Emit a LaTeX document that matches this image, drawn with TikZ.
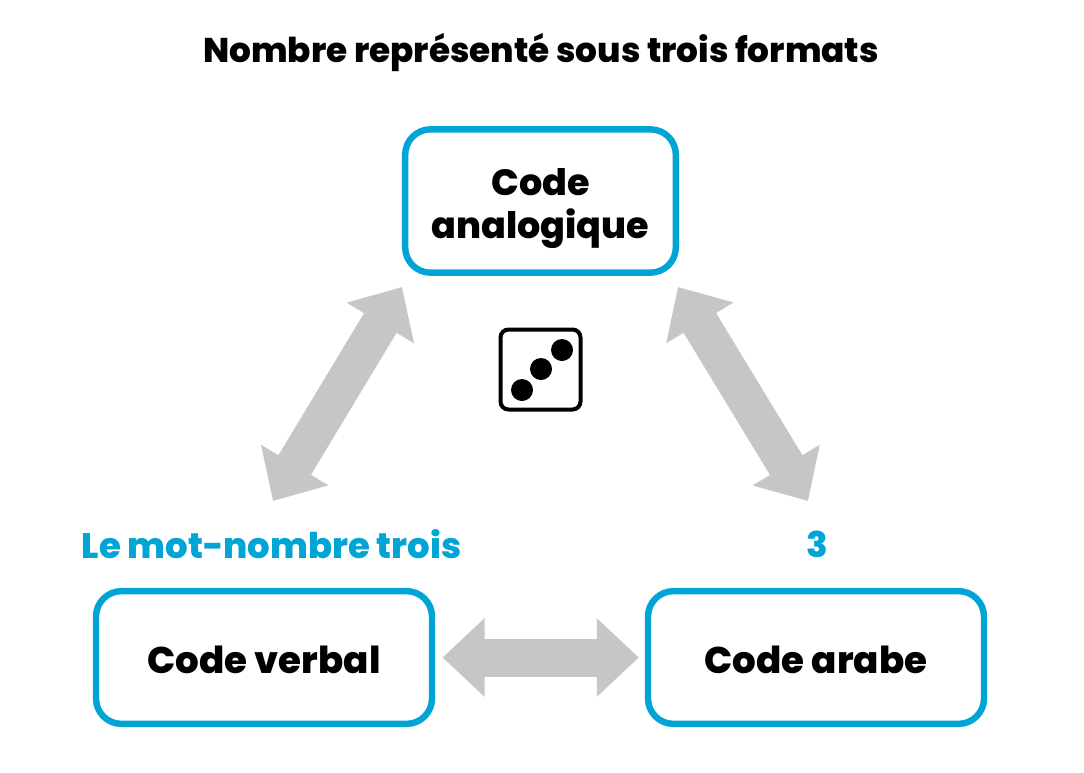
\documentclass[tikz,border=0pt]{standalone}
\usepackage{fontspec}
\usetikzlibrary{arrows.meta}
\setmainfont{Poppins ExtraBold}
\definecolor{codeblue}{HTML}{00A5D6}
\definecolor{flechegrey}{HTML}{C6C6C6}
\tikzset{
	codebox/.style={draw=codeblue,line width=4.8pt,rounded corners=19pt,align=center,font=\fontsize{27.9}{32.5}\selectfont},
	lowbox/.style={codebox,minimum width=252pt,minimum height=99.5pt,text height=24pt,text depth=0pt},
	biarrow/.style={draw=flechegrey,line width=28.5pt,{Triangle[length=31.5pt,width=57pt]}-{Triangle[length=31.5pt,width=57pt]}},
	blueword/.style={text=codeblue,font=\fontsize{26.6}{30}\selectfont},
	dot/.style={circle,fill=black,minimum size=16.5pt,inner sep=0pt}
}
\begin{document}
\begin{tikzpicture}[x=0.75pt,y=-0.75pt]
	\useasboundingbox (0,0) rectangle (1084,772);
	\node[font=\fontsize{25.7}{30}\selectfont] (title) at (541,53){Nombre représenté sous trois formats};
	
	\node[codebox,font=\fontsize{27.4}{32.3}\selectfont,minimum width=203pt,minimum height=107.5pt] (analog) at (540.5,201){\rule{0pt}{31pt}Code\\analogique};
	\node[lowbox] (verbal) at (264,657.5){Code verbal};
	\node[lowbox] (arabe) at (816,657.5){Code arabe};
	
	\node[blueword] (mot) at (271.5,544){Le mot-nombre trois};
	\node[blueword] (trois) at (817,544){3};
	
	\node[draw=black,line width=3pt,rounded corners=6pt,minimum width=60pt,minimum height=60pt] (die) at (540.5,369.5){};
	\node[dot] (dota) at (522,390){};
	\node[dot] (dotb) at (541,369){};
	\node[dot] (dotc) at (562,350){};
	
	\coordinate (leftup) at (402,287);
	\coordinate (leftdown) at (273,501);
	\coordinate (rightup) at (678,287);
	\coordinate (rightdown) at (808,501);
	
	\draw[biarrow] (leftup) -- (leftdown);
	\draw[biarrow] (rightup) -- (rightdown);
	\draw[biarrow,shorten <=5.5pt,shorten >=4.5pt] (verbal.east) -- (arabe.west);
\end{tikzpicture}
\end{document}
